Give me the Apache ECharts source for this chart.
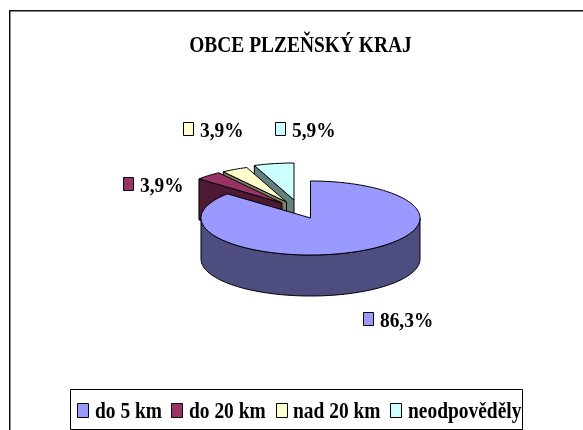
<!DOCTYPE html>
<html><head><meta charset="utf-8">
<style>html,body{margin:0;padding:0;background:#fff}#c{width:583px;height:430px}</style>
<script src="https://cdn.jsdelivr.net/npm/echarts@6/dist/echarts.min.js"></script>
</head><body><div id="c"></div>
<script>
const titleText = 'OBCE PLZEŇSKÝ KRAJ';
const categories = ['do 5 km', 'do 20 km', 'nad 20 km', 'neodpověděly'];
const shares = [86.3, 3.9, 3.9, 5.9];
const topColors = ['#9999ff', '#993366', '#ffffcc', '#ccffff'];
const wallColors = ['#4d4d80', '#4d1933', '#808066', '#668080'];

// pie projection and explosion / label placement (layout only)
const RX = 109.5, RY = 37, DEPTH = 41;
const apexes = [[310.5, 218], [282, 203], [286.5, 202], [294, 200]];
const labelKeys = [[363, 312], [123, 177], [183, 122], [275, 122]];
const legendKeyX = [77, 171, 276, 390];
const legendTextX = [95, 189, 293, 408];
const FONT = '"Liberation Serif", serif';
const total = shares.reduce((a, b) => a + b, 0);

function sliceAngles(i) {
  let a = 0;
  for (let k = 0; k < i; k++) a += shares[k];
  return [a / total * 360, (a + shares[i]) / total * 360];
}
function pt(c, deg, dy) {
  const r = deg * Math.PI / 180;
  return [c[0] + RX * Math.sin(r), c[1] - RY * Math.cos(r) + (dy || 0)];
}
function arcPts(c, from, to, dy) {
  const out = [], n = Math.max(2, Math.ceil(Math.abs(to - from) / 2));
  for (let j = 0; j <= n; j++) out.push(pt(c, from + (to - from) * j / n, dy));
  return out;
}
const line = { stroke: '#000', lineWidth: 1 };
function renderSlice(i) {
  return function (params, api) {
    const value = api.value(0);
    const [a0, a1] = sliceAngles(i);
    const c = apexes[i];
    const kids = [];
    if (i > 0) {
      const p = pt(c, a0);
      kids.push({ type: 'polygon', shape: { points: [p, c, [c[0], c[1] + DEPTH], [p[0], p[1] + DEPTH]] },
        style: Object.assign({ fill: wallColors[i] }, line) });
    }
    const f0 = Math.max(a0, 90), f1 = Math.min(a1, 270);
    if (f1 > f0) {
      const top = arcPts(c, f0, f1, 0), bot = arcPts(c, f1, f0, DEPTH);
      kids.push({ type: 'polygon', shape: { points: top.concat(bot) },
        style: Object.assign({ fill: wallColors[i] }, line) });
    }
    kids.push({ type: 'polygon', shape: { points: [c].concat(arcPts(c, a0, a1, 0)) },
      style: Object.assign({ fill: topColors[i] }, line) });
    const k = labelKeys[i];
    kids.push({ type: 'rect', shape: { x: k[0] + 0.5, y: k[1] + 0.5, width: 10, height: 13 },
      style: { fill: topColors[i], stroke: '#000', lineWidth: 1 } });
    kids.push({ type: 'text', x: k[0] + 17, y: k[1] + 9, scaleX: 0.88, style: {
      text: value.toFixed(1).replace('.', ',') + '%', fill: '#000',
      font: 'bold 22px ' + FONT, verticalAlign: 'middle', align: 'left' } });
    return { type: 'group', children: kids };
  };
}
const legendElements = [{ type: 'rect', silent: true,
  shape: { x: 70.5, y: 389.5, width: 452, height: 40 },
  style: { fill: '#fff', stroke: '#000', lineWidth: 1 } }];
categories.forEach((name, i) => {
  legendElements.push({ type: 'rect', silent: true,
    shape: { x: legendKeyX[i] + 0.5, y: 403.5, width: 11, height: 14 },
    style: { fill: topColors[i], stroke: '#000', lineWidth: 1 } });
  legendElements.push({ type: 'text', silent: true, x: legendTextX[i], y: 412, scaleX: 0.81,
    style: { text: name, fill: '#000', font: 'bold 24px ' + FONT, verticalAlign: 'middle', align: 'left' } });
});
const drawOrder = [3, 2, 1, 0];
const chart = echarts.init(document.getElementById('c'), null, { renderer: 'canvas' });
chart.setOption({
  animation: false,
  backgroundColor: '#fff',
  graphic: [{ type: 'rect', silent: true, z: -1,
    shape: { x: 9.75, y: 10.75, width: 700, height: 600 },
    style: { fill: 'transparent', stroke: '#111', lineWidth: 1.5 } },
    { type: 'text', silent: true, x: 300.5, y: 46, scaleX: 0.81,
      style: { text: titleText, fill: '#000', font: 'bold 24px ' + FONT, verticalAlign: 'middle', align: 'center' } }
  ].concat(legendElements),
  series: drawOrder.map(i => ({
    type: 'custom', name: categories[i], coordinateSystem: 'none',
    renderItem: renderSlice(i), data: [[shares[i]]], silent: true,
    encode: { value: 0 }
  }))
});
</script></body></html>
